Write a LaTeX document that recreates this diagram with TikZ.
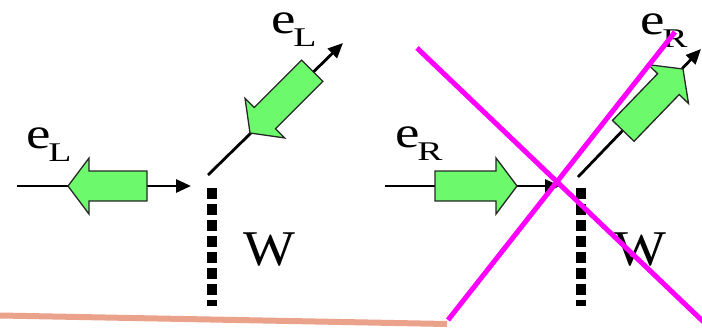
\documentclass[tikz,border=0pt]{standalone}
\usepackage{graphicx}
\usepackage{fontspec}
\setmainfont{Liberation Serif}
\newfontfamily\labelfont{Liberation Serif}
\usetikzlibrary{arrows.meta}

\definecolor{arrowgreen}{RGB}{108,250,108}
\definecolor{crossmagenta}{RGB}{255,0,255}
\definecolor{rulesalmon}{RGB}{234,162,138}

% electron label: e with a subscript letter
\newcommand{\elbl}[1]{%
  \scalebox{1.25}[1]{\labelfont\fontsize{44}{44}\selectfont e}\kern-2pt%
  \raisebox{-13pt}{\scalebox{1.4}[1]{\labelfont\fontsize{27}{27}\selectfont #1}}}
\newcommand{\wlbl}{\scalebox{1.1}[1]{\labelfont\fontsize{50}{50}\selectfont W}}

\tikzset{
  wire/.style={line width=2.8pt, -{Triangle[length=15pt,width=13pt]}},
  wall/.style={line width=10pt, dash pattern=on 10.5pt off 5.5pt},
  cross/.style={line width=5pt, crossmagenta},
  lbl/.style={inner sep=0pt, outer sep=0pt, font=\labelfont},
  % green block arrow, tip at the origin, pointing along +x; #1 = total length
  pics/blockarrow/.style={code={
    \draw[fill=arrowgreen, draw=black!85, line width=1.3pt, line join=miter]
      (0,0) -- (-21,28) -- (-21,15) -- (-#1,15) -- (-#1,-15)
      -- (-21,-15) -- (-21,-28) -- cycle;}},
}

\begin{document}
\begin{tikzpicture}[x=1pt, y=-1pt]
\useasboundingbox (0,0) rectangle (702,327);
\clip (0,0) rectangle (702,327);

% ---- left panel: e_L reflected from the wall ----
\coordinate (lin) at (17,186);
\coordinate (lhit) at (191,186);
\coordinate (lout0) at (208,175);
\coordinate (lout1) at (343,43);
\coordinate (lwtop) at (212,188);
\coordinate (lwbot) at (212,306);

\draw[wire] (lin) -- (lhit);
\draw[wire] (lout0) -- (lout1);
\draw[wall] (lwtop) -- (lwbot);
\pic (la) [rotate=180] at (68,186) {blockarrow=79};
\pic (lb) [rotate=225] at (250,133) {blockarrow=88};

\node[lbl, anchor=base west] (eLin) at (26,148) {\elbl{L}};
\node[lbl, anchor=base west] (eLout) at (271,33) {\elbl{L}};
\node[lbl, anchor=base] (wL) at (269,265) {\wlbl};

% ---- right panel: e_R, crossed out ----
\coordinate (rin) at (385,186);
\coordinate (rhit) at (560,186);
\coordinate (rout0) at (578,177);
\coordinate (rout1) at (701,49);
\coordinate (rwtop) at (581,188);
\coordinate (rwbot) at (581,306);

\draw[wire] (rin) -- (rhit);
\draw[wire] (rout0) -- (rout1);
\draw[wall] (rwtop) -- (rwbot);
\pic (ra) at (517,186) {blockarrow=82};
\pic (rb) [rotate=46] at (683,69) {blockarrow=86};

\node[lbl, anchor=base west] (eRin) at (395,147) {\elbl{R}};
\node[lbl, anchor=base west] (eRout) at (640,34) {\elbl{R}};
\node[lbl, anchor=base] (wR) at (640,265) {\wlbl};

% the cross over the forbidden case
\coordinate (x1a) at (417,48);
\coordinate (x1b) at (712,330);
\coordinate (x2a) at (448,320);
\coordinate (x2b) at (675,32);
\draw[cross] (x1a) -- (x1b);
\draw[cross] (x2a) -- (x2b);

% base rule
\coordinate (ra0) at (0,315.5);
\coordinate (ra1) at (447,324);
\draw[rulesalmon, line width=6pt] (ra0) -- (ra1);
\end{tikzpicture}
\end{document}
